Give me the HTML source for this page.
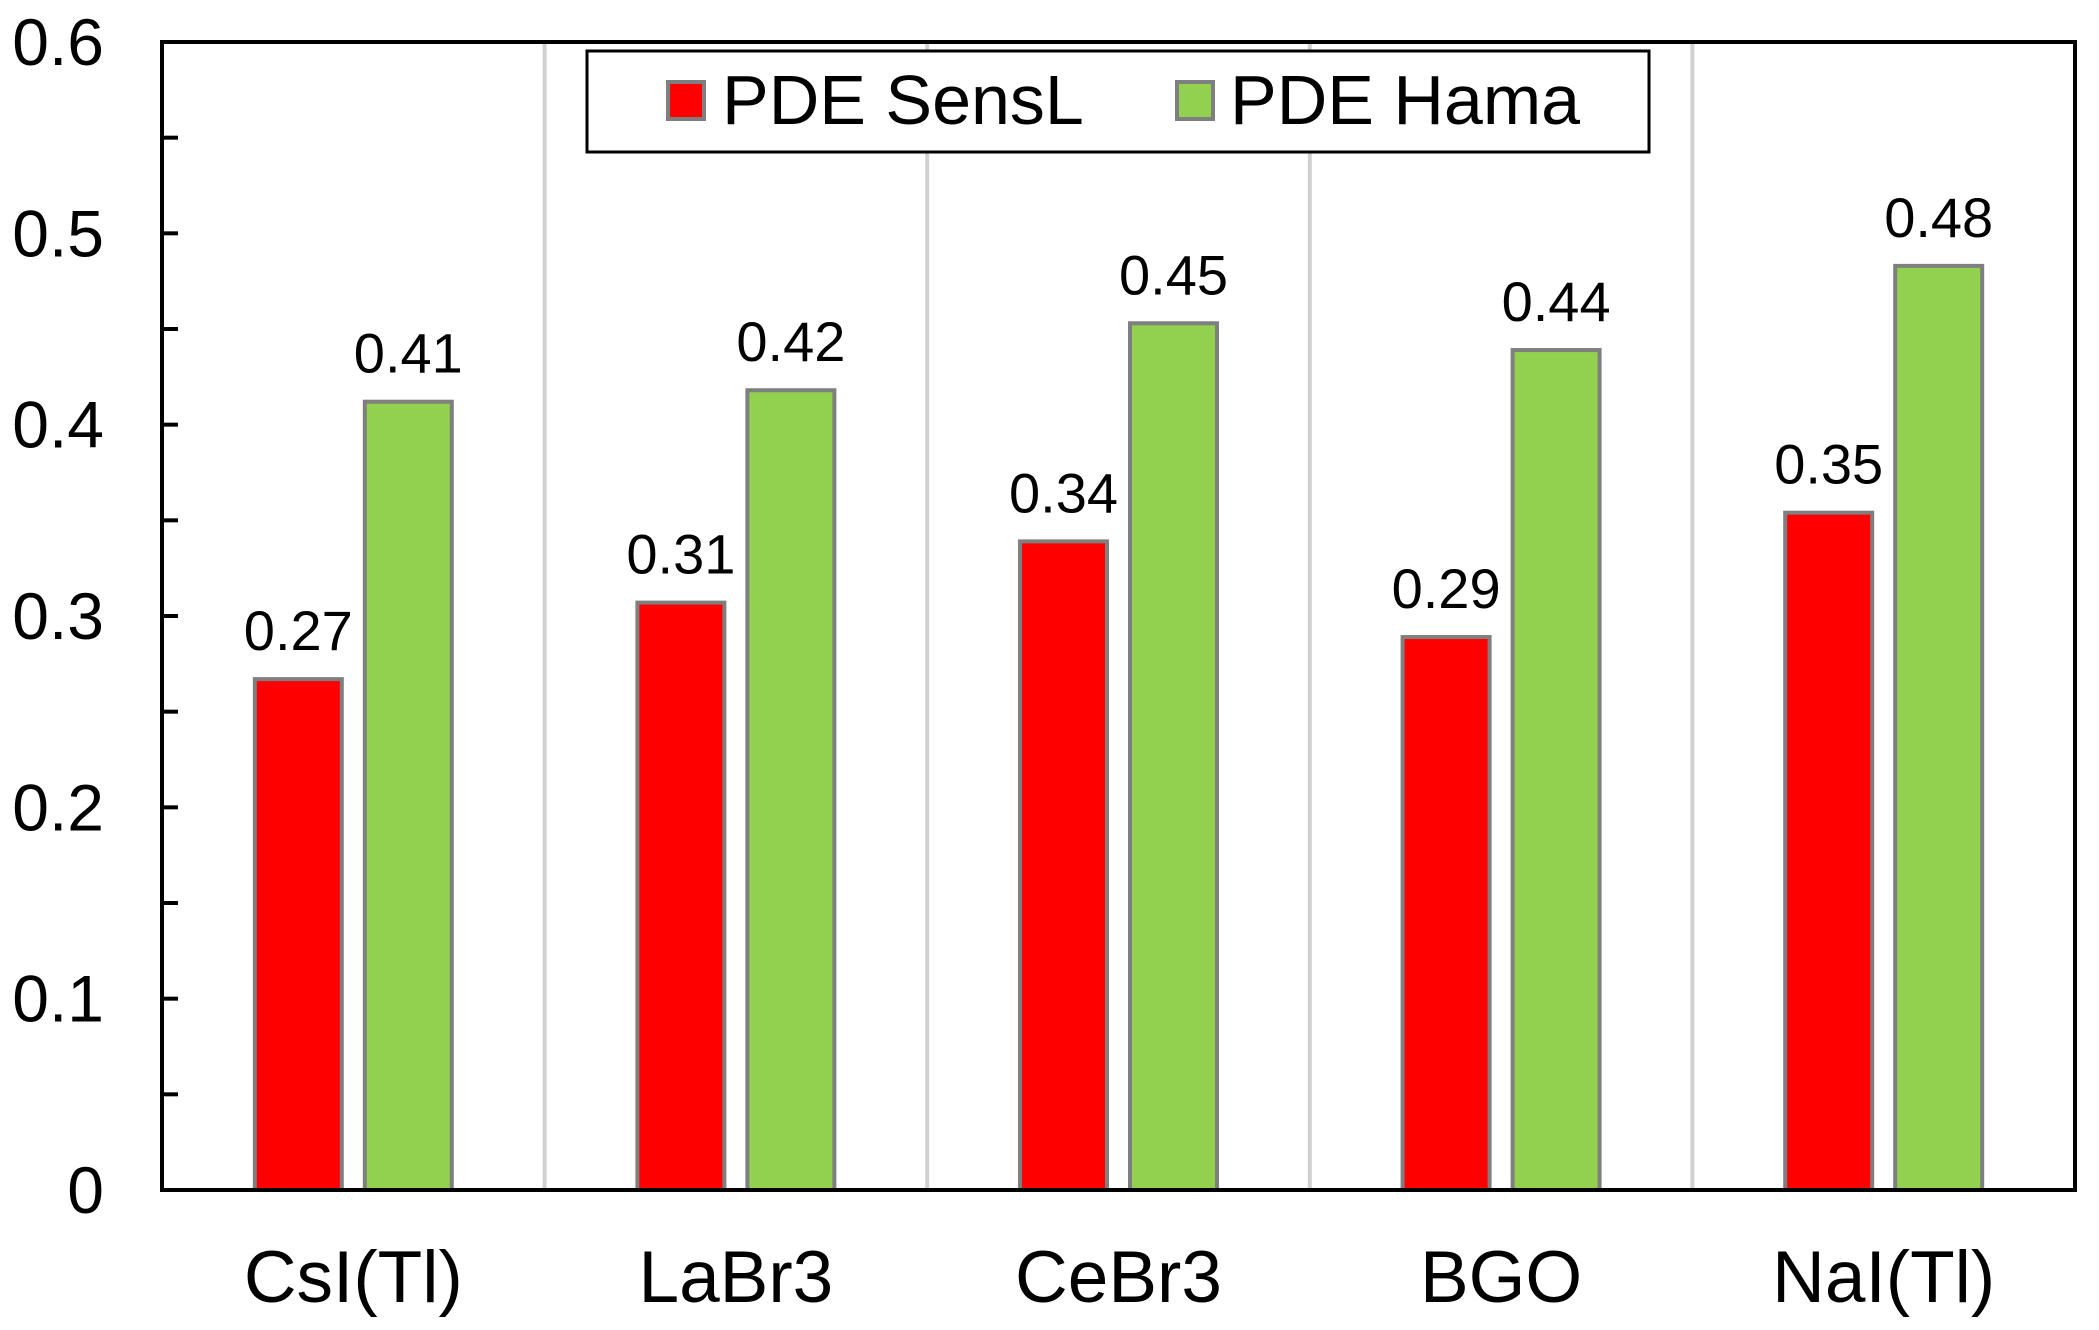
<!DOCTYPE html>
<html><head><meta charset="utf-8"><style>
html,body{margin:0;padding:0;background:#fff;}
svg{display:block;font-family:"Liberation Sans",Arial,sans-serif;}
</style></head><body>
<svg id="chart" width="2099" height="1330" viewBox="0 0 2099 1330" xmlns="http://www.w3.org/2000/svg">
<g id="grid"></g>
<g id="bars"></g>
<g id="labels"></g>
<g id="yaxis"></g>
<g id="xaxis"></g>
<rect x="162" y="42" width="1913" height="1148" fill="none" stroke="#000" stroke-width="4"/>
<g>
<rect x="587" y="51" width="1062" height="101" fill="#fff" stroke="#000" stroke-width="3"/>
<rect x="668" y="82" width="36" height="37" fill="#ff0000" stroke="#7f7f7f" stroke-width="4"/>
<text x="722" y="124" font-size="70">PDE SensL</text>
<rect x="1177" y="82" width="36" height="37" fill="#92d050" stroke="#7f7f7f" stroke-width="4"/>
<text x="1230" y="124" font-size="70">PDE Hama</text>
</g>
</svg>
<script>
const categories = ["CsI(Tl)", "LaBr3", "CeBr3", "BGO", "NaI(Tl)"];
const sensl = [0.267, 0.307, 0.339, 0.289, 0.354];
const hama = [0.412, 0.418, 0.453, 0.439, 0.483];
const senslLabels = ["0.27", "0.31", "0.34", "0.29", "0.35"];
const hamaLabels = ["0.41", "0.42", "0.45", "0.44", "0.48"];
const yTicks = [0, 0.1, 0.2, 0.3, 0.4, 0.5, 0.6];
const yTickLabels = ["0", "0.1", "0.2", "0.3", "0.4", "0.5", "0.6"];

const NS = "http://www.w3.org/2000/svg";
const L = 162, R = 2075, T = 42, B = 1190, YMAX = 0.6;
const catW = (R - L) / categories.length;
function y(v) { return B - (v / YMAX) * (B - T); }
function xc(i) { return L + catW * (i + 0.5); }
function mk(tag, attrs, parent) {
  const e = document.createElementNS(NS, tag);
  for (const k in attrs) e.setAttribute(k, attrs[k]);
  parent.appendChild(e);
  return e;
}
const grid = document.getElementById('grid');
const bars = document.getElementById('bars');
const labels = document.getElementById('labels');
const yaxis = document.getElementById('yaxis');
const xaxis = document.getElementById('xaxis');

for (let i = 1; i < categories.length; i++) {
  const ln = mk('line', {x1: L + catW * i, x2: L + catW * i, y1: T, y2: B, stroke: '#d0d0d0', 'stroke-width': 4}, grid);
  
  
}
const BW = 87, OFF = 55;
const series = [
  {vals: sensl, labs: senslLabels, fill: '#ff0000', off: -OFF, name: 'sensl'},
  {vals: hama, labs: hamaLabels, fill: '#92d050', off: OFF, name: 'hama'}
];
series.forEach(s => {
  s.vals.forEach((v, i) => {
    const cx = xc(i) + s.off;
    const r = mk('rect', {x: cx - BW / 2, y: y(v), width: BW, height: B - y(v), fill: s.fill, stroke: '#7f7f7f', 'stroke-width': 4}, bars);
    
    
    const t = mk('text', {x: cx, y: y(v) - 29, 'font-size': 56, 'text-anchor': 'middle', fill: '#000'}, labels);
    t.textContent = s.labs[i];
    
    
  });
});
yTicks.forEach((v, i) => {
  const t = mk('text', {x: 104, y: y(v) + 23, 'font-size': 66, 'text-anchor': 'end', fill: '#000'}, yaxis);
  t.textContent = yTickLabels[i];
  
  
});
for (let k = 1; k < yTicks.length * 2 - 2; k++) {
  const v = k * 0.05;
  const tk = mk('line', {x1: L, x2: L + 16, y1: y(v), y2: y(v), stroke: '#000', 'stroke-width': 4}, yaxis);
  
  
}
categories.forEach((c, i) => {
  const t = mk('text', {x: xc(i), y: 1302, 'font-size': 73, 'text-anchor': 'middle', fill: '#000'}, xaxis);
  t.textContent = c;
  
  
});
</script>
</body></html>
